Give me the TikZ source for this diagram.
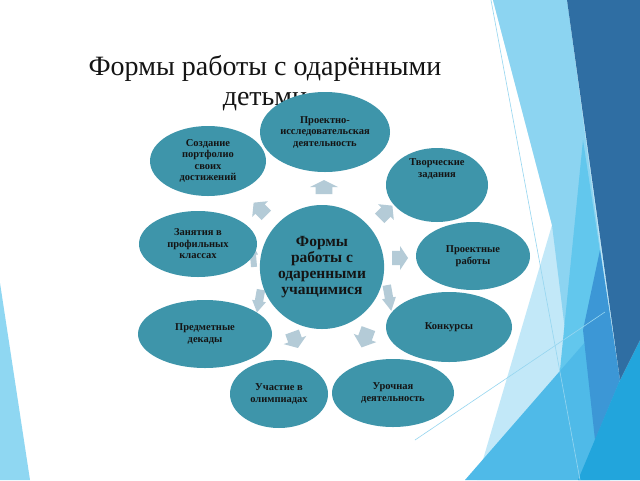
\documentclass[tikz,border=0pt]{standalone}
\usepackage{fontspec}
\setmainfont{Liberation Serif}
\usetikzlibrary{shapes.geometric}
\definecolor{tealc}{RGB}{62,149,170}
\definecolor{arrowc}{RGB}{180,203,215}
\definecolor{leftb}{RGB}{143,215,242}
\definecolor{lwc}{RGB}{194,232,248}
\definecolor{lbc}{RGB}{140,212,241}
\definecolor{ttc}{RGB}{98,199,237}
\definecolor{bbc}{RGB}{60,151,214}
\definecolor{cyc}{RGB}{79,186,232}
\definecolor{brc}{RGB}{34,165,220}
\definecolor{stc}{RGB}{47,110,163}
\definecolor{linec}{RGB}{150,214,240}
\definecolor{txtc}{RGB}{20,20,20}
\newcommand\blockarrow[5]{\fill[arrowc, shift={(#1,#2)}, rotate=#3, xscale=#4, yscale=#5]
  (-0.3pt,-0.5pt) -- (0.3pt,-0.5pt) -- (0.3pt,0pt) -- (0.5pt,0pt) -- (0pt,0.5pt) -- (-0.5pt,0pt) -- (-0.3pt,0pt) -- cycle;}
\begin{document}
\begin{tikzpicture}[x=1pt,y=-1pt,
  ell/.style={ellipse, fill=tealc, inner sep=0pt, outer sep=0pt, align=center, text=txtc,
    font=\bfseries\fontsize{10.5}{11.5}\selectfont}]
\useasboundingbox (0,0) rectangle (640,480);
\fill[white] (0,0) rectangle (640,480);
% background facets
\fill[leftb] (0,283) -- (30,480) -- (0,480) -- cycle;
\fill[lwc] (493,0) -- (567,0) -- (620,380) -- (600,480) -- (477,480) -- (552,225) -- cycle;
\fill[lbc] (493,0) -- (567,0) -- (610,320) -- (565,330) -- (552,225) -- cycle;
\fill[ttc] (583,140) -- (618,370) -- (590,430) -- (555,420) -- cycle;
\fill[cyc] (465,480) -- (600,325) -- (625,400) -- (610,480) -- cycle;
\fill[bbc] (600,250) -- (620,380) -- (595,440) -- (583,330) -- cycle;
\fill[brc] (578,480) -- (620,380) -- (640,340) -- (640,480) -- cycle;
\fill[stc] (567,0) -- (640,0) -- (640,340) -- (620,380) -- cycle;
\draw[linec, line width=0.6pt] (491,0) -- (580,480);
\draw[linec, line width=0.6pt] (415,440) -- (605,312);
% title
\node[font=\fontsize{28}{30}\selectfont, align=center, text=txtc] (title) at (265,83.5)
  {Формы работы с одарёнными\\детьми};
% arrows
\blockarrow{324}{187}{0}{28}{14}
\blockarrow{260}{209}{45}{22}{18}
\blockarrow{386}{212}{-45}{22}{18}
\blockarrow{253}{255}{5}{10}{24}
\blockarrow{400}{258}{-90}{24}{16}
\blockarrow{259}{301}{170}{14}{23}
\blockarrow{389}{298}{190}{14}{26}
\blockarrow{295}{340}{200}{24}{17}
\blockarrow{365}{338}{160}{24}{20}
% ellipses
\node[ell, minimum width=130pt, minimum height=80pt] (e1) at (325,132) {Проектно-\\исследовательская\\деятельность};
\node[ell, minimum width=116pt, minimum height=70pt] (e2) at (208,161) {Создание\\портфолио\\своих\\достижений};
\node[ell, minimum width=102pt, minimum height=74pt,
  label={[name=t3, align=center, text=txtc, font=\bfseries\fontsize{10.5}{11.5}\selectfont, yshift=16pt]center:Творческие\\задания}] (e3) at (437,185) {};
\node[ell, minimum width=118pt, minimum height=66pt] (e4) at (198,244) {Занятия в\\профильных\\классах};
\node[ell, minimum width=114pt, minimum height=68pt] (e5) at (473,256) {Проектные\\работы};
\node[ell, minimum width=126pt, minimum height=70pt] (e6) at (449,327) {Конкурсы};
\node[ell, minimum width=122pt, minimum height=68pt] (e7) at (393,393) {Урочная\\деятельность};
\node[ell, minimum width=98pt, minimum height=68pt] (e8) at (279,394) {Участие в\\олимпиадах};
\node[ell, minimum width=134pt, minimum height=68pt] (e9) at (205,334) {Предметные\\декады};
\node[ell, minimum width=124pt, minimum height=124pt, font=\bfseries\fontsize{15.5}{16}\selectfont] (c) at (322,267) {Формы\\работы с\\одаренными\\учащимися};
\end{tikzpicture}
\end{document}
